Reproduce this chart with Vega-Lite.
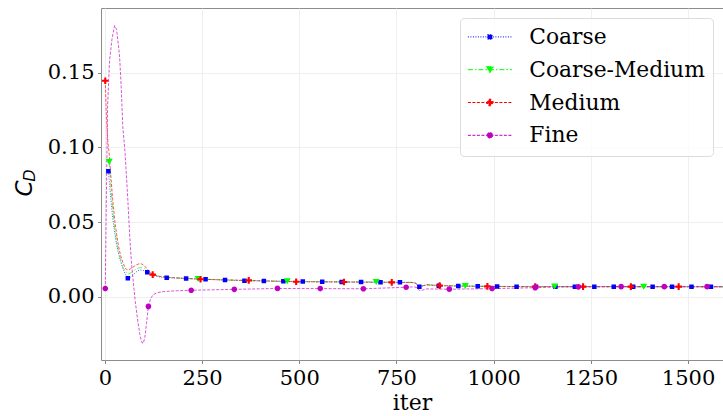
{
  "$schema": "https://vega.github.io/schema/vega-lite/v6.json",
  "width": 622,
  "height": 352,
  "autosize": {"type": "none"},
  "padding": {"left": 101, "top": 8, "right": 0, "bottom": 56},
  "config": {
    "font": "DejaVu Serif",
    "view": {"stroke": "#8c8c8c", "strokeWidth": 1},
    "axis": {
      "domain": false,
      "labelFont": "DejaVu Serif",
      "labelFontSize": 21,
      "labelColor": "#000000",
      "tickColor": "#666666",
      "tickSize": 3.5,
      "tickWidth": 0.8,
      "gridColor": "#ebebeb",
      "gridWidth": 0.8,
      "titleFont": "DejaVu Serif",
      "titleFontSize": 22,
      "titleFontWeight": "normal",
      "titleColor": "#000000"
    }
  },
  "data": {
    "values": [
      {"s": "Coarse", "x": 9, "y": 0.084, "m": 1},
      {"s": "Coarse", "x": 12, "y": 0.075, "m": 0},
      {"s": "Coarse", "x": 15, "y": 0.066, "m": 0},
      {"s": "Coarse", "x": 20, "y": 0.053, "m": 0},
      {"s": "Coarse", "x": 25, "y": 0.043, "m": 0},
      {"s": "Coarse", "x": 30, "y": 0.035, "m": 0},
      {"s": "Coarse", "x": 35, "y": 0.029, "m": 0},
      {"s": "Coarse", "x": 40, "y": 0.024, "m": 0},
      {"s": "Coarse", "x": 46, "y": 0.019, "m": 0},
      {"s": "Coarse", "x": 52, "y": 0.0155, "m": 0},
      {"s": "Coarse", "x": 59, "y": 0.0123, "m": 1},
      {"s": "Coarse", "x": 65, "y": 0.0128, "m": 0},
      {"s": "Coarse", "x": 72, "y": 0.0145, "m": 0},
      {"s": "Coarse", "x": 80, "y": 0.0165, "m": 0},
      {"s": "Coarse", "x": 88, "y": 0.0177, "m": 0},
      {"s": "Coarse", "x": 95, "y": 0.0179, "m": 0},
      {"s": "Coarse", "x": 102, "y": 0.0173, "m": 0},
      {"s": "Coarse", "x": 109, "y": 0.0163, "m": 1},
      {"s": "Coarse", "x": 118, "y": 0.0148, "m": 0},
      {"s": "Coarse", "x": 130, "y": 0.0137, "m": 0},
      {"s": "Coarse", "x": 145, "y": 0.013, "m": 0},
      {"s": "Coarse", "x": 159, "y": 0.0127, "m": 1},
      {"s": "Coarse", "x": 209, "y": 0.0122, "m": 1},
      {"s": "Coarse", "x": 259, "y": 0.0116, "m": 1},
      {"s": "Coarse", "x": 309, "y": 0.0111, "m": 1},
      {"s": "Coarse", "x": 359, "y": 0.0107, "m": 1},
      {"s": "Coarse", "x": 409, "y": 0.0105, "m": 1},
      {"s": "Coarse", "x": 459, "y": 0.0103, "m": 1},
      {"s": "Coarse", "x": 509, "y": 0.0101, "m": 1},
      {"s": "Coarse", "x": 559, "y": 0.01, "m": 1},
      {"s": "Coarse", "x": 609, "y": 0.0099, "m": 1},
      {"s": "Coarse", "x": 659, "y": 0.0098, "m": 1},
      {"s": "Coarse", "x": 709, "y": 0.0097, "m": 1},
      {"s": "Coarse", "x": 759, "y": 0.0096, "m": 1},
      {"s": "Coarse", "x": 790, "y": 0.0095, "m": 0},
      {"s": "Coarse", "x": 800, "y": 0.009, "m": 0},
      {"s": "Coarse", "x": 805, "y": 0.0072, "m": 0},
      {"s": "Coarse", "x": 809, "y": 0.0066, "m": 1},
      {"s": "Coarse", "x": 818, "y": 0.0072, "m": 0},
      {"s": "Coarse", "x": 828, "y": 0.0079, "m": 0},
      {"s": "Coarse", "x": 840, "y": 0.0077, "m": 0},
      {"s": "Coarse", "x": 859, "y": 0.0074, "m": 1},
      {"s": "Coarse", "x": 909, "y": 0.0071, "m": 1},
      {"s": "Coarse", "x": 959, "y": 0.0069, "m": 1},
      {"s": "Coarse", "x": 1009, "y": 0.0068, "m": 1},
      {"s": "Coarse", "x": 1059, "y": 0.0067, "m": 1},
      {"s": "Coarse", "x": 1109, "y": 0.0067, "m": 1},
      {"s": "Coarse", "x": 1159, "y": 0.0067, "m": 1},
      {"s": "Coarse", "x": 1209, "y": 0.0067, "m": 1},
      {"s": "Coarse", "x": 1259, "y": 0.0067, "m": 1},
      {"s": "Coarse", "x": 1309, "y": 0.0067, "m": 1},
      {"s": "Coarse", "x": 1359, "y": 0.0066, "m": 1},
      {"s": "Coarse", "x": 1409, "y": 0.0066, "m": 1},
      {"s": "Coarse", "x": 1459, "y": 0.0066, "m": 1},
      {"s": "Coarse", "x": 1509, "y": 0.0066, "m": 1},
      {"s": "Coarse", "x": 1559, "y": 0.0066, "m": 1},
      {"s": "Coarse", "x": 1600, "y": 0.0066, "m": 0},

      {"s": "Coarse-Medium", "x": 11, "y": 0.0904, "m": 1},
      {"s": "Coarse-Medium", "x": 15, "y": 0.075, "m": 0},
      {"s": "Coarse-Medium", "x": 20, "y": 0.058, "m": 0},
      {"s": "Coarse-Medium", "x": 25, "y": 0.046, "m": 0},
      {"s": "Coarse-Medium", "x": 30, "y": 0.037, "m": 0},
      {"s": "Coarse-Medium", "x": 35, "y": 0.03, "m": 0},
      {"s": "Coarse-Medium", "x": 40, "y": 0.025, "m": 0},
      {"s": "Coarse-Medium", "x": 46, "y": 0.02, "m": 0},
      {"s": "Coarse-Medium", "x": 52, "y": 0.0172, "m": 0},
      {"s": "Coarse-Medium", "x": 60, "y": 0.0152, "m": 0},
      {"s": "Coarse-Medium", "x": 68, "y": 0.0162, "m": 0},
      {"s": "Coarse-Medium", "x": 76, "y": 0.0178, "m": 0},
      {"s": "Coarse-Medium", "x": 86, "y": 0.0192, "m": 0},
      {"s": "Coarse-Medium", "x": 94, "y": 0.0195, "m": 0},
      {"s": "Coarse-Medium", "x": 102, "y": 0.0188, "m": 0},
      {"s": "Coarse-Medium", "x": 110, "y": 0.0172, "m": 0},
      {"s": "Coarse-Medium", "x": 120, "y": 0.0155, "m": 0},
      {"s": "Coarse-Medium", "x": 135, "y": 0.014, "m": 0},
      {"s": "Coarse-Medium", "x": 150, "y": 0.0133, "m": 0},
      {"s": "Coarse-Medium", "x": 190, "y": 0.0125, "m": 0},
      {"s": "Coarse-Medium", "x": 240, "y": 0.0119, "m": 1},
      {"s": "Coarse-Medium", "x": 300, "y": 0.0113, "m": 0},
      {"s": "Coarse-Medium", "x": 360, "y": 0.0108, "m": 0},
      {"s": "Coarse-Medium", "x": 469, "y": 0.0103, "m": 1},
      {"s": "Coarse-Medium", "x": 550, "y": 0.01, "m": 0},
      {"s": "Coarse-Medium", "x": 698, "y": 0.0098, "m": 1},
      {"s": "Coarse-Medium", "x": 790, "y": 0.0096, "m": 0},
      {"s": "Coarse-Medium", "x": 800, "y": 0.0091, "m": 0},
      {"s": "Coarse-Medium", "x": 805, "y": 0.0073, "m": 0},
      {"s": "Coarse-Medium", "x": 810, "y": 0.0067, "m": 0},
      {"s": "Coarse-Medium", "x": 818, "y": 0.0073, "m": 0},
      {"s": "Coarse-Medium", "x": 828, "y": 0.008, "m": 0},
      {"s": "Coarse-Medium", "x": 845, "y": 0.0077, "m": 0},
      {"s": "Coarse-Medium", "x": 870, "y": 0.0074, "m": 0},
      {"s": "Coarse-Medium", "x": 927, "y": 0.0071, "m": 1},
      {"s": "Coarse-Medium", "x": 1000, "y": 0.0069, "m": 0},
      {"s": "Coarse-Medium", "x": 1157, "y": 0.0068, "m": 1},
      {"s": "Coarse-Medium", "x": 1386, "y": 0.0067, "m": 1},
      {"s": "Coarse-Medium", "x": 1600, "y": 0.0066, "m": 0},

      {"s": "Medium", "x": 1, "y": 0.1446, "m": 1},
      {"s": "Medium", "x": 3, "y": 0.128, "m": 0},
      {"s": "Medium", "x": 5, "y": 0.115, "m": 0},
      {"s": "Medium", "x": 8, "y": 0.103, "m": 0},
      {"s": "Medium", "x": 11, "y": 0.096, "m": 0},
      {"s": "Medium", "x": 15, "y": 0.082, "m": 0},
      {"s": "Medium", "x": 20, "y": 0.065, "m": 0},
      {"s": "Medium", "x": 25, "y": 0.052, "m": 0},
      {"s": "Medium", "x": 30, "y": 0.042, "m": 0},
      {"s": "Medium", "x": 35, "y": 0.034, "m": 0},
      {"s": "Medium", "x": 40, "y": 0.028, "m": 0},
      {"s": "Medium", "x": 46, "y": 0.023, "m": 0},
      {"s": "Medium", "x": 52, "y": 0.0193, "m": 0},
      {"s": "Medium", "x": 57, "y": 0.0179, "m": 0},
      {"s": "Medium", "x": 64, "y": 0.0183, "m": 0},
      {"s": "Medium", "x": 72, "y": 0.0197, "m": 0},
      {"s": "Medium", "x": 80, "y": 0.0212, "m": 0},
      {"s": "Medium", "x": 88, "y": 0.022, "m": 0},
      {"s": "Medium", "x": 95, "y": 0.0219, "m": 0},
      {"s": "Medium", "x": 102, "y": 0.0207, "m": 0},
      {"s": "Medium", "x": 110, "y": 0.018, "m": 0},
      {"s": "Medium", "x": 123, "y": 0.0148, "m": 1},
      {"s": "Medium", "x": 140, "y": 0.0135, "m": 0},
      {"s": "Medium", "x": 170, "y": 0.0128, "m": 0},
      {"s": "Medium", "x": 200, "y": 0.0123, "m": 0},
      {"s": "Medium", "x": 246, "y": 0.0117, "m": 1},
      {"s": "Medium", "x": 300, "y": 0.0113, "m": 0},
      {"s": "Medium", "x": 370, "y": 0.0109, "m": 1},
      {"s": "Medium", "x": 430, "y": 0.0104, "m": 0},
      {"s": "Medium", "x": 492, "y": 0.01, "m": 1},
      {"s": "Medium", "x": 615, "y": 0.0098, "m": 1},
      {"s": "Medium", "x": 738, "y": 0.0096, "m": 1},
      {"s": "Medium", "x": 790, "y": 0.0095, "m": 0},
      {"s": "Medium", "x": 800, "y": 0.009, "m": 0},
      {"s": "Medium", "x": 805, "y": 0.0073, "m": 0},
      {"s": "Medium", "x": 810, "y": 0.0067, "m": 0},
      {"s": "Medium", "x": 818, "y": 0.0073, "m": 0},
      {"s": "Medium", "x": 828, "y": 0.008, "m": 0},
      {"s": "Medium", "x": 845, "y": 0.0077, "m": 0},
      {"s": "Medium", "x": 861, "y": 0.0074, "m": 1},
      {"s": "Medium", "x": 900, "y": 0.0072, "m": 0},
      {"s": "Medium", "x": 984, "y": 0.0069, "m": 1},
      {"s": "Medium", "x": 1107, "y": 0.0067, "m": 1},
      {"s": "Medium", "x": 1230, "y": 0.0067, "m": 1},
      {"s": "Medium", "x": 1353, "y": 0.0067, "m": 1},
      {"s": "Medium", "x": 1476, "y": 0.0067, "m": 1},
      {"s": "Medium", "x": 1599, "y": 0.0066, "m": 1},

      {"s": "Fine", "x": 1, "y": 0.0054, "m": 1},
      {"s": "Fine", "x": 4, "y": 0.07, "m": 0},
      {"s": "Fine", "x": 7, "y": 0.128, "m": 0},
      {"s": "Fine", "x": 12, "y": 0.158, "m": 0},
      {"s": "Fine", "x": 18, "y": 0.172, "m": 0},
      {"s": "Fine", "x": 25, "y": 0.1815, "m": 0},
      {"s": "Fine", "x": 30, "y": 0.179, "m": 0},
      {"s": "Fine", "x": 35, "y": 0.168, "m": 0},
      {"s": "Fine", "x": 38, "y": 0.16, "m": 0},
      {"s": "Fine", "x": 42, "y": 0.1405, "m": 0},
      {"s": "Fine", "x": 46, "y": 0.114, "m": 0},
      {"s": "Fine", "x": 52, "y": 0.096, "m": 0},
      {"s": "Fine", "x": 59, "y": 0.065, "m": 0},
      {"s": "Fine", "x": 64, "y": 0.04, "m": 0},
      {"s": "Fine", "x": 68, "y": 0.024, "m": 0},
      {"s": "Fine", "x": 73, "y": 0.01, "m": 0},
      {"s": "Fine", "x": 78, "y": -0.003, "m": 0},
      {"s": "Fine", "x": 85, "y": -0.017, "m": 0},
      {"s": "Fine", "x": 91, "y": -0.027, "m": 0},
      {"s": "Fine", "x": 96, "y": -0.031, "m": 0},
      {"s": "Fine", "x": 99, "y": -0.0312, "m": 0},
      {"s": "Fine", "x": 103, "y": -0.027, "m": 0},
      {"s": "Fine", "x": 107, "y": -0.018, "m": 0},
      {"s": "Fine", "x": 112, "y": -0.0065, "m": 1},
      {"s": "Fine", "x": 118, "y": -0.001, "m": 0},
      {"s": "Fine", "x": 125, "y": 0.0015, "m": 0},
      {"s": "Fine", "x": 135, "y": 0.0027, "m": 0},
      {"s": "Fine", "x": 150, "y": 0.0034, "m": 0},
      {"s": "Fine", "x": 180, "y": 0.0039, "m": 0},
      {"s": "Fine", "x": 222, "y": 0.0043, "m": 1},
      {"s": "Fine", "x": 333, "y": 0.0049, "m": 1},
      {"s": "Fine", "x": 444, "y": 0.0055, "m": 1},
      {"s": "Fine", "x": 554, "y": 0.0054, "m": 1},
      {"s": "Fine", "x": 665, "y": 0.0053, "m": 1},
      {"s": "Fine", "x": 720, "y": 0.0058, "m": 0},
      {"s": "Fine", "x": 775, "y": 0.0063, "m": 1},
      {"s": "Fine", "x": 795, "y": 0.0066, "m": 0},
      {"s": "Fine", "x": 803, "y": 0.006, "m": 0},
      {"s": "Fine", "x": 810, "y": 0.004, "m": 0},
      {"s": "Fine", "x": 818, "y": 0.0045, "m": 0},
      {"s": "Fine", "x": 828, "y": 0.0052, "m": 0},
      {"s": "Fine", "x": 886, "y": 0.005, "m": 1},
      {"s": "Fine", "x": 996, "y": 0.0054, "m": 1},
      {"s": "Fine", "x": 1050, "y": 0.0057, "m": 0},
      {"s": "Fine", "x": 1107, "y": 0.006, "m": 1},
      {"s": "Fine", "x": 1150, "y": 0.0065, "m": 0},
      {"s": "Fine", "x": 1218, "y": 0.0066, "m": 1},
      {"s": "Fine", "x": 1328, "y": 0.0067, "m": 1},
      {"s": "Fine", "x": 1439, "y": 0.0067, "m": 1},
      {"s": "Fine", "x": 1549, "y": 0.0067, "m": 1},
      {"s": "Fine", "x": 1600, "y": 0.0067, "m": 0}
    ]
  },
  "layer": [
    {
      "mark": {"type": "line", "strokeWidth": 1, "strokeOpacity": 0.65, "clip": true},
      "encoding": {
        "x": {
          "field": "x",
          "type": "quantitative",
          "scale": {"domain": [-10, 1590], "nice": false, "zero": false},
          "axis": {
            "title": "iter",
            "values": [0, 250, 500, 750, 1000, 1250, 1500],
            "format": "d",
            "labelPadding": 4,
            "titlePadding": 4
          }
        },
        "y": {
          "field": "y",
          "type": "quantitative",
          "scale": {"domain": [-0.0424, 0.1933], "nice": false, "zero": false},
          "axis": {
            "title": "C",
            "values": [0, 0.05, 0.1, 0.15],
            "format": ".2f",
            "labelPadding": 3.5,
            "titleFont": "DejaVu Sans",
            "titleFontStyle": "italic",
            "titleFontSize": 23,
            "titleAngle": -90,
            "titleAlign": "center",
            "titleBaseline": "middle",
            "titleX": -77,
            "titleY": 180
          }
        },
        "color": {
          "field": "s",
          "type": "nominal",
          "scale": {
            "domain": ["Coarse", "Coarse-Medium", "Medium", "Fine"],
            "range": ["#0000ff", "#00ff00", "#ff0000", "#bf00bf"]
          },
          "legend": {
            "title": null,
            "orient": "top-right",
            "offset": 10,
            "padding": 8,
            "rowPadding": 9.8,
            "symbolOffset": 11,
            "symbolSize": 36,
            "symbolStrokeWidth": 1,
            "labelOffset": 28.5,
            "labelFont": "DejaVu Serif",
            "labelFontSize": 21.8,
            "labelColor": "#000000",
            "labelLimit": 300,
            "fillColor": "rgba(255,255,255,0.8)",
            "strokeColor": "#dcdcdc",
            "cornerRadius": 4
          }
        },
        "strokeDash": {
          "field": "s",
          "type": "nominal",
          "scale": {
            "domain": ["Coarse", "Coarse-Medium", "Medium", "Fine"],
            "range": [[1, 1.5], [5, 2, 1.5, 2], [3, 1.5], [3, 1.5]]
          },
          "legend": null
        }
      }
    },
    {
      "transform": [{"filter": "datum.m == 1"}],
      "mark": {"type": "point", "filled": true, "size": 36, "opacity": 1, "strokeWidth": 0, "clip": true},
      "encoding": {
        "x": {"field": "x", "type": "quantitative"},
        "y": {
          "field": "y",
          "type": "quantitative",
          "axis": {
            "orient": "right",
            "title": "D",
            "labels": false,
            "ticks": false,
            "grid": false,
            "domain": false,
            "titleFont": "DejaVu Sans",
            "titleFontStyle": "italic",
            "titleFontSize": 16,
            "titleAngle": -90,
            "titleAlign": "center",
            "titleBaseline": "middle",
            "titleX": -694,
            "titleY": 167
          }
        },
        "color": {"field": "s", "type": "nominal"},
        "shape": {
          "field": "s",
          "type": "nominal",
          "scale": {
            "domain": ["Coarse", "Coarse-Medium", "Medium", "Fine"],
            "range": [
              "M-7.33,0H7.33M-0.75,-0.75H0.75V0.75H-0.75Z",
              "M-7.33,0H7.33M-1.2,-1H1.2L0,1Z",
              "M-7.33,0H7.33M-0.35,-1.1H0.35V-0.35H1.1V0.35H0.35V1.1H-0.35V0.35H-1.1V-0.35H-0.35Z",
              "M-7.33,0H7.33M0.95,0A0.95,0.95,0,1,1,-0.95,0A0.95,0.95,0,1,1,0.95,0Z"
            ]
          },
          "legend": null
        }
      }
    }
  ],
  "resolve": {"axis": {"y": "independent"}}
}
